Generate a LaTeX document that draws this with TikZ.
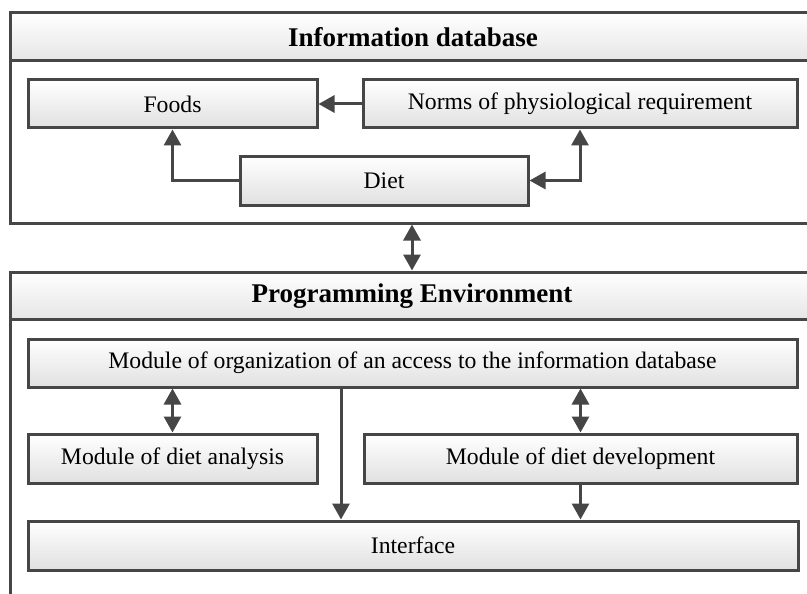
\documentclass[tikz,border=0pt]{standalone}
\usepackage{fontspec}
\setmainfont{Liberation Serif}
\usetikzlibrary{arrows.meta,calc}
\definecolor{ln}{HTML}{464646}
\begin{document}
\begin{tikzpicture}[x=1pt,y=-1pt,
  box/.style={draw=ln, line width=3pt, top color=white, bottom color=black!12, inner sep=0pt,
    font=\fontsize{23.7}{28}\selectfont},
  outerbox/.style={draw=ln, line width=3pt, inner sep=0pt},
  hdr/.style={draw=ln, line width=3pt, top color=white, bottom color=black!10},
  ttl/.style={font=\bfseries\fontsize{27}{31}\selectfont, inner sep=0pt},
  arr/.style={draw=ln, line width=3pt, -{Triangle[length=16pt,width=17pt]}},
  darr/.style={draw=ln, line width=3pt, {Triangle[length=16pt,width=17pt]}-{Triangle[length=16pt,width=17pt]}}]
\useasboundingbox (0,0) rectangle (807,594);
\clip (0,0) rectangle (807,594);
\fill[white] (0,0) rectangle (807,594);
% Information database frame
\node[outerbox, minimum width=804pt, minimum height=210pt] (db) at (412,118) {};
\shade[hdr] (10,13) rectangle (830,61);
\node[ttl] (dbt) at (413,37) {Information database};
% Programming environment frame
\node[outerbox, minimum width=804pt, minimum height=428pt] (pe) at (412,486) {};
\shade[hdr] (10,272) rectangle (830,319);
\node[ttl] (pet) at (412,296) {Programming Environment};
% inner boxes
\node[box, minimum width=289pt, minimum height=48pt] (foods) at (172.5,104) {Foods};
\node[box, minimum width=434pt, minimum height=48pt] (norms) at (580,104) {Norms of physiological requirement};
\node[box, minimum width=288pt, minimum height=49pt] (diet) at (384,180.5) {Diet};
\node[box, minimum width=769pt, minimum height=48pt] (org) at (412.5,363) {Module of organization of an access to the information database};
\node[box, minimum width=289pt, minimum height=49pt] (ana) at (172.5,458.5) {Module of diet analysis};
\node[box, minimum width=433pt, minimum height=49pt] (dev) at (580.5,458.5) {Module of diet development};
\node[box, minimum width=770pt, minimum height=49pt] (intf) at (413,545.5) {Interface};
\coordinate (x341) at (341,0);
% connectors
\draw[arr] (norms.west) -- (foods.east);
\draw[arr] (diet.west) -| (foods.south);
\draw[darr] (diet.east) -| (norms.south);
\draw[darr] (db.south) -- (pe.north);
\draw[darr] (org.south -| ana.north) -- (ana.north);
\draw[darr] (org.south -| dev.north) -- (dev.north);
\draw[arr] (org.south -| x341) -- (intf.north -| x341);
\draw[arr] (dev.south) -- (dev.south |- intf.north);
\end{tikzpicture}
\end{document}
